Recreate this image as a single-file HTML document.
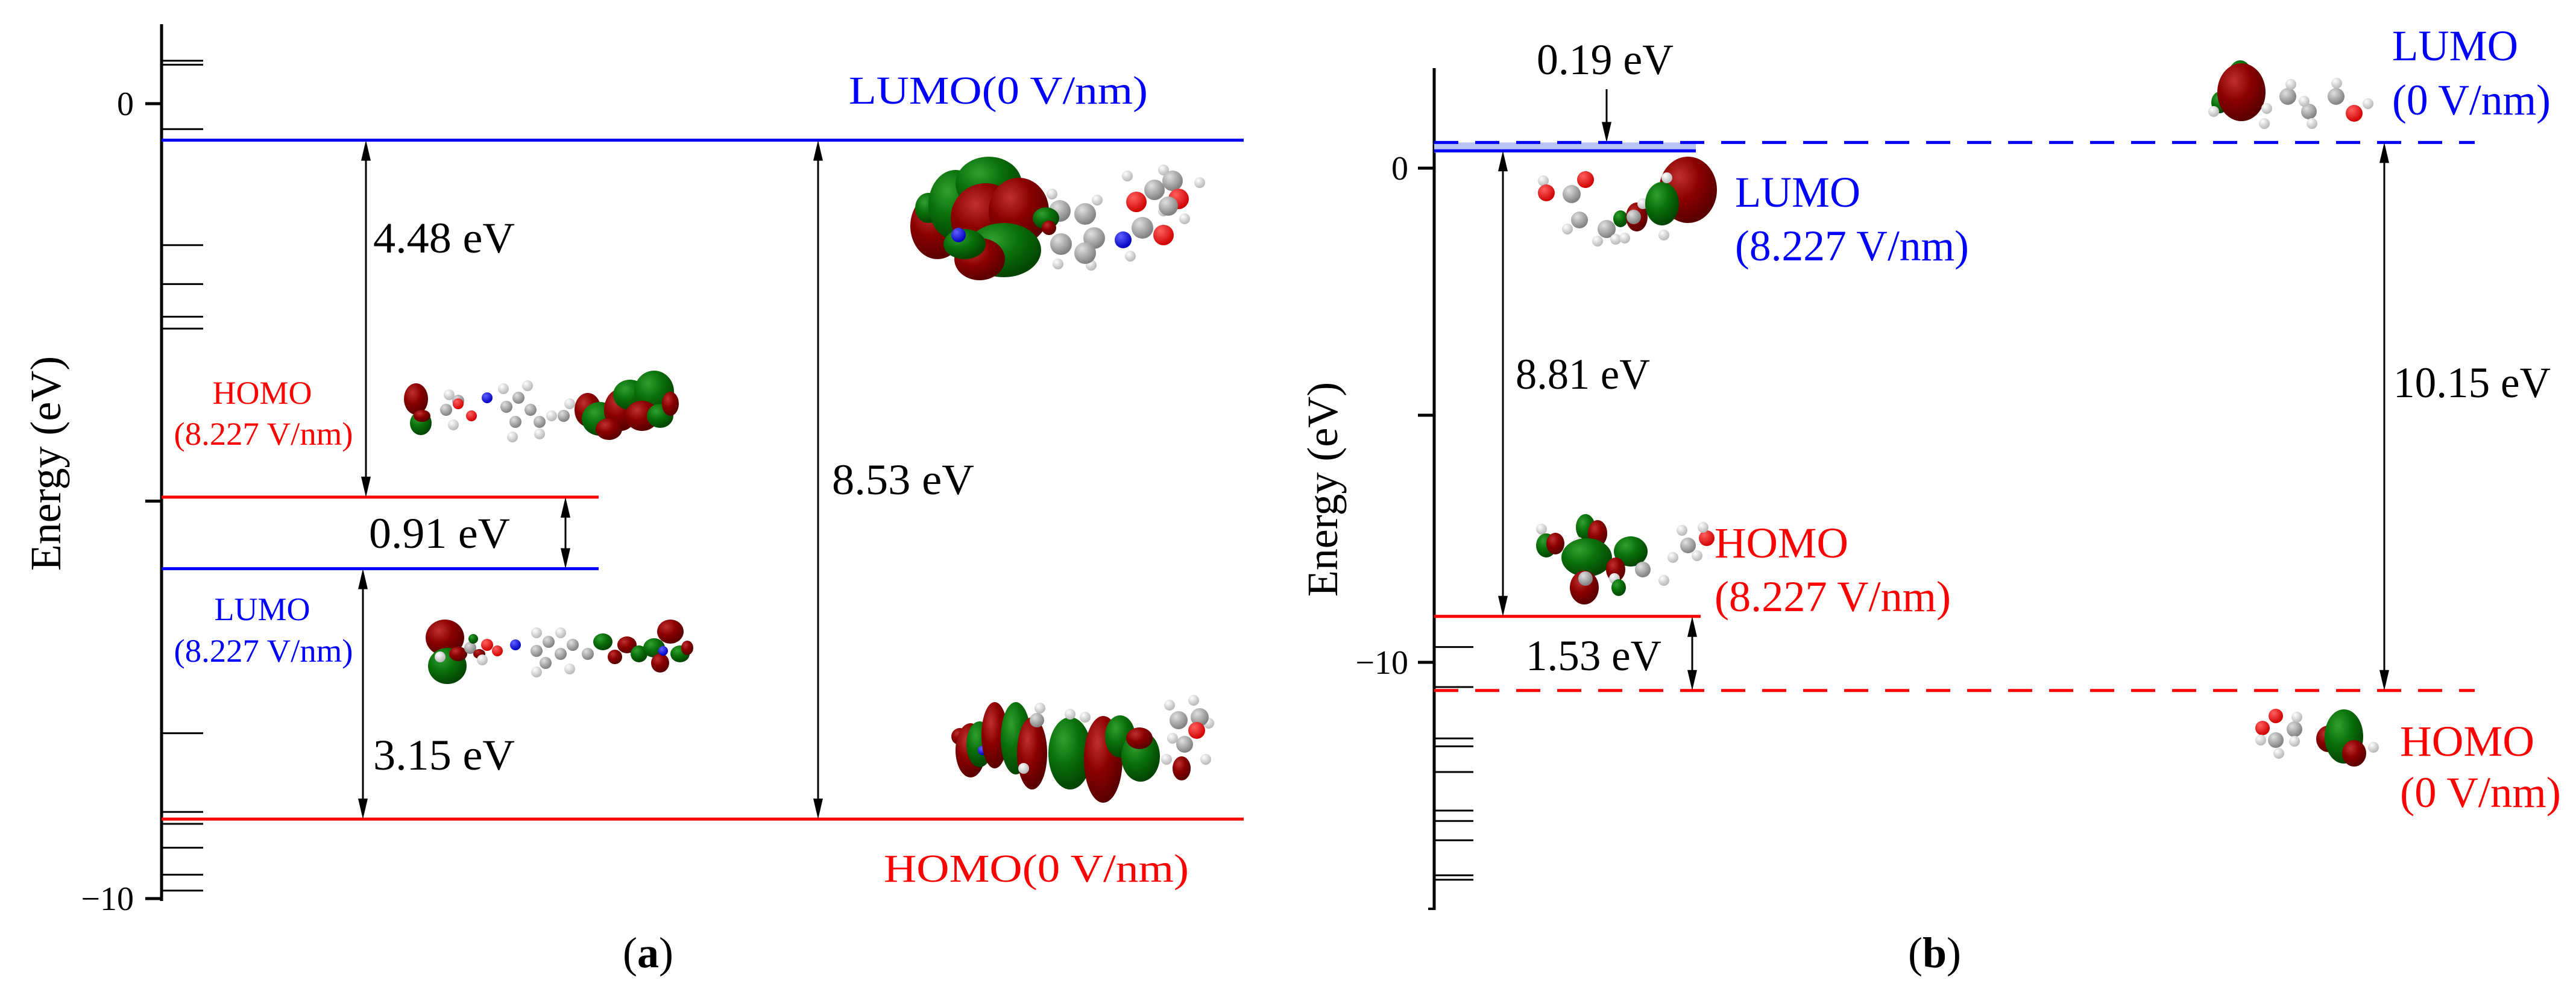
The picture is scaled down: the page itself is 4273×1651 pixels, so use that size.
<!DOCTYPE html>
<html><head><meta charset="utf-8"><style>
html,body{margin:0;padding:0;background:#fff}
svg{display:block}
svg text{font-family:"Liberation Serif","Times New Roman",serif}
</style></head><body>
<svg id="fig" xmlns="http://www.w3.org/2000/svg" width="4273" height="1651" viewBox="0 0 4273 1651" font-family="Liberation Serif, serif">
<defs>
<radialGradient id="gr" cx="35%" cy="30%" r="70%"><stop offset="0" stop-color="#c03030"/><stop offset="0.5" stop-color="#8a0000"/><stop offset="1" stop-color="#5a0000"/></radialGradient>
<radialGradient id="gg" cx="35%" cy="30%" r="70%"><stop offset="0" stop-color="#30a030"/><stop offset="0.5" stop-color="#0a700a"/><stop offset="1" stop-color="#034503"/></radialGradient>
<radialGradient id="gc" cx="35%" cy="30%" r="70%"><stop offset="0" stop-color="#e0e0e0"/><stop offset="1" stop-color="#808080"/></radialGradient>
<radialGradient id="gh" cx="35%" cy="30%" r="70%"><stop offset="0" stop-color="#ffffff"/><stop offset="1" stop-color="#b8b8b8"/></radialGradient>
<radialGradient id="go" cx="35%" cy="30%" r="70%"><stop offset="0" stop-color="#ff6060"/><stop offset="1" stop-color="#d00000"/></radialGradient>
<radialGradient id="gn" cx="35%" cy="30%" r="70%"><stop offset="0" stop-color="#6060ff"/><stop offset="1" stop-color="#0000c0"/></radialGradient>
</defs>
<g id="panelA"></g>
<g id="panelB"></g>
</svg>
<script>
// ---------- data ----------
const levelNamesA = ["LUMO(0 V/nm)", "HOMO(0 V/nm)", "HOMO(8.227 V/nm)", "LUMO(8.227 V/nm)"];
const levelEnergyA = [-0.46, -9.0, -4.95, -5.85];
const minorLevelsA = [0.54, 0.49, -0.32, -1.78, -2.27, -2.68, -2.83, -7.92, -8.91, -9.06, -9.36, -9.70, -9.90];
const tickValuesA = [0, -5, -10];
const tickLabelsA = ["0", "", "\u221210"];
const gapLabelsA = ["4.48 eV", "0.91 eV", "3.15 eV", "8.53 eV"];
const levelNamesB = ["LUMO(0 V/nm)", "LUMO(8.227 V/nm)", "HOMO(8.227 V/nm)", "HOMO(0 V/nm)"];
const levelEnergyB = [0.52, 0.35, -9.07, -10.57];
const minorLevelsB = [-9.69, -10.50, -11.54, -11.70, -12.22, -13.0, -13.21, -13.60, -14.31, -14.40];
const tickValuesB = [0, -5, -10];
const tickLabelsB = ["0", "", "\u221210"];
const gapLabelsB = ["0.19 eV", "8.81 eV", "1.53 eV", "10.15 eV"];

// ---------- axis functions ----------
const yA = e => 172 - e * 131.9;
const yB = e => 279 - e * 82.0;

const NS = "http://www.w3.org/2000/svg";
const FONT = '"Liberation Serif", "Times New Roman", serif';
function mk(parent, tag, attrs, txt) {
  const el = document.createElementNS(NS, tag);
  for (const k in attrs) el.setAttribute(k, attrs[k]);
  if (txt !== undefined) el.textContent = txt;
  parent.appendChild(el);
  return el;
}
function txt(parent, name, x, y, s, size, color, anchor, len) {
  const a = {x: x, y: y, "font-size": size, fill: color || "#000", "text-anchor": anchor || "start", "font-family": FONT};
  if (len) { a.textLength = len; a.lengthAdjust = "spacingAndGlyphs"; }
  const t = mk(parent, "text", a, s);
  t.style.fontFamily = FONT;
  
  
  return t;
}
function panelLabel(parent, name, x, y, letter) {
  const t = mk(parent, "text", {x: x, y: y, "font-size": 72, fill: "#000", "text-anchor": "middle", "font-family": FONT});
  t.style.fontFamily = FONT;
  
  
  mk(t, "tspan", {}, "(");
  mk(t, "tspan", {"font-weight": "bold"}, letter);
  mk(t, "tspan", {}, ")");
}
function arrow(parent, name, x, y1, y2) {
  const g = mk(parent, "g", {});
  
  
  const top = Math.min(y1, y2), bot = Math.max(y1, y2);
  mk(g, "line", {x1: x, x2: x, y1: top + 20, y2: bot - 20, stroke: "#000", "stroke-width": 3});
  mk(g, "polygon", {points: `${x},${top} ${x-8},${top+34} ${x+8},${top+34}`, fill: "#000"});
  mk(g, "polygon", {points: `${x},${bot} ${x-8},${bot-34} ${x+8},${bot-34}`, fill: "#000"});
  return g;
}
const fills = {r: "url(#gr)", g: "url(#gg)", c: "url(#gc)", h: "url(#gh)", o: "url(#go)", n: "url(#gn)"};
function mol(parent, name, items) {
  const g = mk(parent, "g", {});
  
  
  items.forEach(it => {
    const [t, x, y, rx, ry] = it;
    const r = rx || ({c: 13, h: 9, o: 13, n: 12}[t]);
    mk(g, "ellipse", {cx: x, cy: y, rx: r, ry: ry || r, fill: fills[t]});
  });
  return g;
}

// ---------- panel (a) ----------
const A = document.getElementById("panelA");
const axA = 268;
let el = mk(A, "line", {x1: axA, x2: axA, y1: yA(1.0), y2: yA(-10.03), stroke: "#000", "stroke-width": 5});


tickValuesA.forEach((v, i) => {
  const t = mk(A, "line", {x1: axA - 27, x2: axA, y1: yA(v), y2: yA(v), stroke: "#000", "stroke-width": 5});
  
  
  if (tickLabelsA[i]) txt(A, "y-tick-label-a", 222, yA(v) + 19, tickLabelsA[i], 56, "#000", "end");
});
minorLevelsA.forEach(v => {
  const t = mk(A, "line", {x1: axA, x2: 337, y1: yA(v), y2: yA(v), stroke: "#000", "stroke-width": 3});
  
  
});
const yt = txt(A, "y-axis-title-a", 0, 0, "Energy (eV)", 72, "#000", "middle");
yt.setAttribute("transform", "translate(100,769) rotate(-90)");

const endA = [2063, 2063, 993, 993];
const colA = ["#0000ff", "#ff0000", "#ff0000", "#0000ff"];
levelEnergyA.forEach((e, i) => {
  const l = mk(A, "line", {x1: axA, x2: endA[i], y1: yA(e), y2: yA(e), stroke: colA[i], "stroke-width": 5});
  
  
});
arrow(A, "gap-arrow-4.48", 607, yA(levelEnergyA[0]), yA(levelEnergyA[2]));
arrow(A, "gap-arrow-0.91", 938, yA(levelEnergyA[2]), yA(levelEnergyA[3]));
arrow(A, "gap-arrow-3.15", 602, yA(levelEnergyA[3]), yA(levelEnergyA[1]));
arrow(A, "gap-arrow-8.53", 1357, yA(levelEnergyA[0]), yA(levelEnergyA[1]));

txt(A, "label-lumo-0", 1408, 172, "LUMO(0 V/nm)", 66, "#0000ff", "start", 496);
txt(A, "label-homo-0", 1466, 1463, "HOMO(0 V/nm)", 66, "#ff0000", "start", 506);
txt(A, "label-homo-field", 435, 670, "HOMO", 54, "#ff0000", "middle");
txt(A, "label-homo-field-2", 437, 738, "(8.227 V/nm)", 54, "#ff0000", "middle", 297);
txt(A, "label-lumo-field", 435, 1029, "LUMO", 54, "#0000ff", "middle");
txt(A, "label-lumo-field-2", 437, 1098, "(8.227 V/nm)", 54, "#0000ff", "middle", 297);
txt(A, "gap-label-a-1", 619, 419, gapLabelsA[0], 72, "#000", "start", 235);
txt(A, "gap-label-a-2", 612, 909, gapLabelsA[1], 72, "#000", "start", 234);
txt(A, "gap-label-a-3", 619, 1277, gapLabelsA[2], 72, "#000", "start", 235);
txt(A, "gap-label-a-4", 1380, 820, gapLabelsA[3], 72, "#000", "start", 236);
panelLabel(A, "panel-label-a", 1075, 1605, "a");

mol(A, "orbital-lumo-0-a", [
  ["h",1870,292],["h",1930,282],["h",1990,303],["h",1965,363],["h",1745,322],["h",1820,332],["h",1810,440],["h",1755,438],["h",1875,425],["h",1930,350],
  ["r",1555,375,45,55],["g",1540,345,22,25],["g",1585,340,45,58],["g",1640,305,55,45],["r",1635,362,58,58],["r",1690,350,50,55],["g",1665,415,62,45],["r",1625,430,42,35],["g",1600,405,35,25],["n",1590,390,12],
  ["c",1758,350,18],["c",1800,355,18],["c",1815,395,18],["c",1760,405,18],["c",1800,420,18],["g",1735,362,22,18],["r",1740,378,12],
  ["n",1863,398,14],["c",1895,378,18],["o",1930,390,17],["o",1885,335,17],["c",1915,315,17],["c",1945,300,17],["o",1955,330,17],["c",1938,342,16]
]);
mol(A, "orbital-homo-field-a", [
  ["r",690,662,20,26],["g",698,702,18,20],["r",700,690,14,10],
  ["c",740,680,10],["c",760,665,10],["o",760,670,9],["o",782,690,9],["h",745,655],["h",752,705],["n",808,660,9],
  ["c",840,675,10],["c",860,660,10],["c",880,680,10],["c",855,700,10],["c",895,700,10],["h",835,645],["h",875,640],["h",895,720],["h",850,725],["h",915,690],
  ["c",935,690,10],["h",945,670],
  ["r",975,680,22,28],["g",995,695,30,28],["r",1030,680,28,35],["g",1045,655,28,25],["r",1010,712,22,18],["g",1085,650,33,35],["r",1065,690,28,25],["g",1095,690,22,20],["r",1112,670,14,20]
]);
mol(A, "orbital-lumo-field-a", [
  ["r",738,1058,32,30],["g",742,1105,32,30],["r",760,1085,15,12],["h",730,1090],
  ["c",780,1075,10],["g",785,1060,8],["o",808,1070,10],["r",795,1085,10,8],["o",825,1080,9],["h",800,1095],["n",855,1070,9],
  ["c",890,1080,10],["c",910,1065,10],["c",930,1085,10],["c",905,1100,10],["c",950,1070,10],["h",890,1050],["h",930,1050],["h",945,1110],["h",890,1115],
  ["c",975,1085,10],["g",1000,1065,16,14],["r",1040,1070,16,14],["g",1060,1085,14,14],["r",1020,1090,12,12],["g",1085,1075,18,16],["r",1112,1048,22,20],["r",1095,1100,15,16],["g",1128,1085,16,14],["r",1140,1075,10,12],["n",1100,1080,8]
]);
mol(A, "orbital-homo-0-a", [
  ["h",1940,1170],["h",1980,1162],["h",2005,1200],["c",1955,1195,15],["c",1990,1190,15],["o",1985,1212,14],["c",1965,1235,14],["h",1945,1225],["h",2000,1260],
  ["r",1592,1222,14],["r",1610,1245,25,45],["g",1625,1235,22,38],["n",1630,1245,8],
  ["r",1650,1220,22,55],["g",1685,1225,25,60],["r",1712,1250,25,60],["c",1720,1195,12],["h",1725,1175],["h",1698,1275],
  ["g",1775,1250,36,60],["h",1775,1185],["h",1800,1190],["r",1830,1260,32,72],["g",1858,1222,25,35],["g",1892,1255,32,42],["r",1890,1225,22,18],["r",1960,1275,15,20],["h",1935,1260]
]);

// ---------- panel (b) ----------
const B = document.getElementById("panelB");
const axB = 2379;
el = mk(B, "line", {x1: axB, x2: axB, y1: 113, y2: 1510, stroke: "#000", "stroke-width": 5});


el = mk(B, "line", {x1: axB - 10, x2: axB, y1: 1508, y2: 1508, stroke: "#000", "stroke-width": 4});


tickValuesB.forEach((v, i) => {
  const t = mk(B, "line", {x1: axB - 27, x2: axB, y1: yB(v), y2: yB(v), stroke: "#000", "stroke-width": 5});
  
  
  if (tickLabelsB[i]) txt(B, "y-tick-label-b", 2336, yB(v) + 19, tickLabelsB[i], 56, "#000", "end");
});
minorLevelsB.forEach(v => {
  const t = mk(B, "line", {x1: axB, x2: 2444, y1: yB(v), y2: yB(v), stroke: "#000", "stroke-width": 3});
  
  
});
const ytb = txt(B, "y-axis-title-b", 0, 0, "Energy (eV)", 72, "#000", "middle");
ytb.setAttribute("transform", "translate(2218,812) rotate(-90)");

el = mk(B, "rect", {x: axB, y: yB(levelEnergyB[0]), width: 2813 - axB, height: yB(levelEnergyB[1]) - yB(levelEnergyB[0]) + 3, fill: "#b8c4f4"});


const endB = [4105, 2813, 2821, 4105];
const colB = ["#0000ff", "#0000ff", "#ff0000", "#ff0000"];
const dashB = [true, false, false, true];
levelEnergyB.forEach((e, i) => {
  const a = {x1: axB, x2: endB[i], y1: yB(e), y2: yB(e), stroke: colB[i], "stroke-width": 5};
  if (dashB[i]) a["stroke-dasharray"] = "40 28";
  const l = mk(B, "line", a);
  
  
});
el = mk(B, "g", {});


mk(el, "line", {x1: 2665, x2: 2665, y1: 148, y2: yB(levelEnergyB[0]) - 20, stroke: "#000", "stroke-width": 3});
mk(el, "polygon", {points: `2665,${yB(levelEnergyB[0])} 2657,${yB(levelEnergyB[0]) - 34} 2673,${yB(levelEnergyB[0]) - 34}`, fill: "#000"});
arrow(B, "gap-arrow-8.81", 2493, yB(levelEnergyB[1]), yB(levelEnergyB[2]));
arrow(B, "gap-arrow-1.53", 2807, yB(levelEnergyB[2]), yB(levelEnergyB[3]));
arrow(B, "gap-arrow-10.15", 3955, yB(levelEnergyB[0]), yB(levelEnergyB[3]));

txt(B, "gap-label-b-1", 2549, 123, gapLabelsB[0], 72, "#000", "start", 227);
txt(B, "gap-label-b-2", 2514, 645, gapLabelsB[1], 72, "#000", "start", 223);
txt(B, "gap-label-b-3", 2531, 1112, gapLabelsB[2], 72, "#000", "start", 225);
txt(B, "gap-label-b-4", 3970, 659, gapLabelsB[3], 72, "#000", "start", 261);
txt(B, "label-lumo-0-b", 3968, 100, "LUMO", 72, "#0000ff", "start", 209);
txt(B, "label-lumo-0-b-2", 3968, 190, "(0 V/nm)", 72, "#0000ff", "start", 263);
txt(B, "label-lumo-field-b", 2878, 343, "LUMO", 72, "#0000ff", "start", 208);
txt(B, "label-lumo-field-b-2", 2878, 432, "(8.227 V/nm)", 72, "#0000ff", "start", 388);
txt(B, "label-homo-field-b", 2844, 925, "HOMO", 72, "#ff0000", "start", 222);
txt(B, "label-homo-field-b-2", 2844, 1014, "(8.227 V/nm)", 72, "#ff0000", "start", 392);
txt(B, "label-homo-0-b", 3981, 1254, "HOMO", 72, "#ff0000", "start", 223);
txt(B, "label-homo-0-b-2", 3981, 1339, "(0 V/nm)", 72, "#ff0000", "start", 267);
panelLabel(B, "panel-label-b", 3209, 1605, "b");

mol(B, "orbital-lumo-0-b", [
  ["g",3716,140,24,40],["g",3682,170,14,18],["r",3718,153,40,48],["h",3672,185],["h",3760,180],["h",3756,205],
  ["c",3795,160,14],["h",3800,140],["c",3830,185,13],["h",3835,205],["h",3822,168],["c",3875,160,14],["h",3876,138],["o",3905,188,14],["h",3928,172]
]);
mol(B, "orbital-lumo-field-b", [
  ["h",2560,300],["o",2565,320,14],["c",2607,322,15],["o",2630,298,14],["c",2620,365,14],["h",2600,380],["c",2665,380,15],["h",2680,397],["h",2650,400],
  ["g",2688,363,12,14],["r",2715,360,18,24],["c",2710,360,12],["h",2695,395],["h",2725,338],["h",2760,390],
  ["r",2800,315,48,55],["g",2757,338,28,36],["h",2765,295]
]);
mol(B, "orbital-homo-field-b", [
  ["h",2557,878],["g",2565,905,17,20],["r",2580,902,15,18],["g",2630,875,16,22],["r",2650,885,16,22],["h",2618,900],
  ["g",2632,925,42,32],["r",2628,975,24,28],["c",2630,960,12],["g",2705,915,28,25],["r",2680,945,16,20],["h",2678,960],["g",2685,975,12,14],["c",2725,945,13],["h",2760,963],["h",2775,925],
  ["c",2800,905,13],["h",2790,880],["h",2815,922],["o",2831,893,13],["h",2825,875]
]);
mol(B, "orbital-homo-0-b", [
  ["o",3753,1208,12],["h",3750,1228],["c",3775,1228,13],["o",3775,1188,12],["h",3780,1250],["c",3806,1210,13],["h",3810,1190],["h",3806,1230],
  ["r",3862,1226,20,22],["h",3870,1243],["g",3888,1222,32,45],["r",3905,1250,20,22],["h",3937,1240]
]);
</script>
</body></html>
